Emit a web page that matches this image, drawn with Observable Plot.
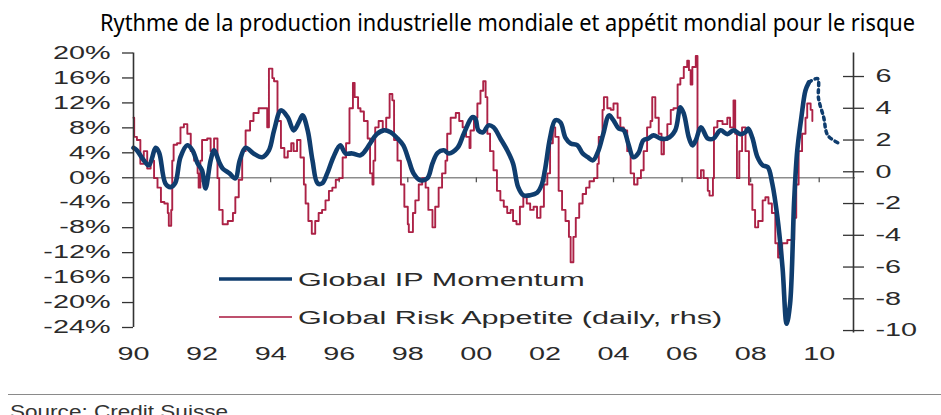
<!DOCTYPE html>
<html><head><meta charset="utf-8">
<script src="https://cdn.jsdelivr.net/npm/d3@7"></script>
<script src="https://cdn.jsdelivr.net/npm/@observablehq/plot@0.6"></script>
<style>
html,body{margin:0;padding:0;background:#fff}
body{width:941px;height:415px;overflow:hidden;position:relative;font-family:"Liberation Sans",Arial,sans-serif}
#title{position:absolute;left:0;top:0}
#chart{position:absolute;left:0;top:35px}
#legend{position:absolute;left:0;top:0;pointer-events:none}
#rule{position:absolute;left:8px;top:394px;width:933px;border-top:1.5px solid #8a8a8a}
#source{position:absolute;left:0;top:0}
</style></head><body>
<div id="chart"></div>
<svg id="title" width="941" height="45"><text x="100" y="31" font-family="Noto Sans, Open Sans, sans-serif" font-size="23" fill="#000" textLength="815" lengthAdjust="spacingAndGlyphs">Rythme de la production industrielle mondiale et appétit mondial pour le risque</text></svg>
<div id="rule"></div>
<svg id="source" width="941" height="415"><text x="10" y="418" font-size="18" fill="#333" textLength="218" lengthAdjust="spacingAndGlyphs">Source: Credit Suisse</text></svg>
<svg id="legend" width="941" height="415"></svg>
<script>
// ---- data ----
const seriesNames = ["Global IP Momentum", "Global Risk Appetite (daily, rhs)"];
// Global IP momentum (% , left axis): [year, value]
const ipMomentum = [
[1990.0,4.8],[1990.1,4.4],[1990.3,2.8],[1990.45,2.0],[1990.65,4.8],[1990.75,4.0],[1990.93,-0.9],[1991.08,-1.5],[1991.22,-0.8],[1991.37,3.3],[1991.57,5.2],[1991.72,4.4],[1991.87,2.3],[1992.0,1.2],[1992.1,-1.7],[1992.25,2.8],[1992.35,4.4],[1992.5,2.5],[1992.6,1.5],[1992.8,0.7],[1992.97,-0.1],[1993.1,2.8],[1993.27,4.8],[1993.5,3.9],[1993.75,3.3],[1993.95,4.4],[1994.1,7.6],[1994.3,10.8],[1994.5,9.7],[1994.67,7.6],[1994.82,8.9],[1994.93,10.0],[1995.08,7.6],[1995.22,2.8],[1995.37,-0.9],[1995.5,-0.9],[1995.65,0.7],[1995.83,3.3],[1996.03,5.2],[1996.18,3.9],[1996.38,3.9],[1996.62,3.6],[1996.77,4.4],[1996.9,5.5],[1997.1,7.0],[1997.3,7.6],[1997.5,7.3],[1997.7,6.3],[1997.87,5.2],[1998.03,2.8],[1998.17,0.7],[1998.37,-0.4],[1998.57,-0.1],[1998.72,2.3],[1998.87,4.0],[1999.05,4.4],[1999.2,3.9],[1999.45,4.8],[1999.63,7.0],[1999.88,9.7],[1999.97,9.5],[2000.06,7.6],[2000.2,7.3],[2000.35,8.4],[2000.5,8.1],[2000.7,6.3],[2000.9,4.4],[2001.07,2.3],[2001.22,-1.5],[2001.37,-2.8],[2001.57,-2.8],[2001.77,-2.4],[2001.9,-1.2],[2002.0,1.2],[2002.15,6.4],[2002.3,9.2],[2002.45,8.9],[2002.6,6.4],[2002.75,5.5],[2002.95,5.2],[2003.1,3.9],[2003.25,3.3],[2003.4,2.8],[2003.55,4.2],[2003.7,7.0],[2003.87,10.0],[2004.0,9.2],[2004.15,7.9],[2004.3,7.6],[2004.43,5.5],[2004.58,3.3],[2004.73,4.0],[2004.87,6.0],[2005.02,6.3],[2005.17,6.8],[2005.37,6.3],[2005.57,6.3],[2005.8,7.6],[2005.95,11.3],[2006.05,10.3],[2006.2,6.4],[2006.3,5.2],[2006.4,6.0],[2006.55,8.1],[2006.75,6.3],[2006.92,6.3],[2007.12,7.6],[2007.32,7.0],[2007.5,7.6],[2007.7,7.0],[2007.85,7.3],[2007.93,7.9],[2008.05,6.4],[2008.2,3.3],[2008.35,2.0],[2008.5,1.7],[2008.63,-0.9],[2008.78,-6.3],[2008.93,-14.4],[2009.05,-23.4],[2009.15,-20.2],[2009.27,-3.6],[2009.36,4.4],[2009.48,9.7],[2009.6,14.0],[2009.7,15.3]
];
// projected IP momentum (dotted)
const ipProjection = [[2009.7,15.3],[2009.95,15.9],[2009.98,12.7],[2010.13,9.7],[2010.25,6.8],[2010.55,5.6]];
// Global risk appetite (right axis): [year, value]
const riskAppetite = [
[1990.0,3.4],[1990.02,2.2],[1990.1,2.0],[1990.2,0.5],[1990.3,1.3],[1990.4,0.2],[1990.5,0.7],[1990.6,-0.4],[1990.7,-1.0],[1990.8,-1.9],[1990.9,-2.0],[1991.0,-2.6],[1991.03,-3.4],[1991.1,-2.4],[1991.13,0.7],[1991.17,1.7],[1991.27,1.8],[1991.37,2.8],[1991.47,3.0],[1991.57,2.4],[1991.67,1.3],[1991.77,0.7],[1991.87,-0.1],[1991.9,-1.0],[1991.95,0.7],[1992.0,2.0],[1992.15,2.1],[1992.25,1.3],[1992.35,2.1],[1992.45,-0.4],[1992.5,-2.4],[1992.6,-3.3],[1992.75,-3.1],[1992.9,-2.6],[1992.97,-1.6],[1993.07,-0.5],[1993.17,1.3],[1993.27,2.6],[1993.4,3.2],[1993.5,3.7],[1993.65,4.0],[1993.8,4.0],[1993.9,2.8],[1993.95,6.5],[1994.05,5.9],[1994.1,5.7],[1994.2,3.2],[1994.3,1.5],[1994.4,0.9],[1994.5,1.3],[1994.6,1.8],[1994.67,1.3],[1994.77,2.0],[1994.87,0.9],[1994.97,-0.8],[1995.02,-2.0],[1995.1,-3.1],[1995.2,-3.9],[1995.3,-3.1],[1995.4,-2.6],[1995.5,-2.4],[1995.6,-1.8],[1995.7,-1.2],[1995.8,-1.0],[1995.9,-0.5],[1996.0,-0.4],[1996.1,0.9],[1996.2,1.8],[1996.3,4.0],[1996.4,5.6],[1996.45,4.7],[1996.55,4.0],[1996.62,3.8],[1996.72,3.2],[1996.83,2.1],[1996.9,-0.1],[1996.97,-0.8],[1997.0,0.7],[1997.05,2.8],[1997.15,3.2],[1997.27,2.6],[1997.37,3.4],[1997.47,4.9],[1997.55,4.5],[1997.6,2.0],[1997.7,0.7],[1997.8,-0.8],[1997.9,-2.2],[1998.0,-3.3],[1998.03,-3.8],[1998.15,-2.6],[1998.22,-1.8],[1998.32,-0.8],[1998.42,-0.4],[1998.52,-1.0],[1998.6,-2.4],[1998.72,-3.5],[1998.8,-2.2],[1998.9,-1.0],[1999.0,-0.1],[1999.1,0.7],[1999.15,2.4],[1999.25,3.4],[1999.4,3.7],[1999.5,3.2],[1999.6,2.8],[1999.7,2.2],[1999.8,1.5],[1999.83,2.6],[1999.93,3.4],[2000.03,4.3],[2000.12,5.1],[2000.2,5.7],[2000.27,4.7],[2000.32,2.4],[2000.4,1.3],[2000.5,0.1],[2000.6,-1.2],[2000.7,-1.8],[2000.8,-2.2],[2000.9,-2.6],[2001.0,-2.4],[2001.07,-3.1],[2001.17,-3.3],[2001.27,-2.2],[2001.37,-1.6],[2001.47,-2.0],[2001.57,-2.4],[2001.67,-2.2],[2001.77,-2.9],[2001.87,-2.2],[2001.97,-0.8],[2002.07,-0.1],[2002.15,1.8],[2002.23,2.8],[2002.3,2.2],[2002.4,-1.2],[2002.5,-2.4],[2002.6,-3.1],[2002.7,-4.1],[2002.75,-5.7],[2002.83,-4.1],[2002.9,-2.9],[2003.0,-2.0],[2003.1,-1.4],[2003.2,-1.0],[2003.3,-0.6],[2003.43,-0.4],[2003.53,0.5],[2003.57,2.2],[2003.68,3.9],[2003.72,4.7],[2003.82,4.0],[2003.92,3.9],[2004.0,4.3],[2004.12,3.4],[2004.2,2.8],[2004.3,2.6],[2004.4,1.3],[2004.5,-0.1],[2004.6,-0.8],[2004.7,-0.4],[2004.8,0.1],[2004.88,1.3],[2004.98,2.8],[2005.08,3.2],[2005.13,4.7],[2005.22,3.4],[2005.32,2.4],[2005.4,1.1],[2005.47,2.0],[2005.57,3.0],[2005.67,3.9],[2005.75,4.0],[2005.87,5.5],[2005.95,5.9],[2006.05,6.6],[2006.15,7.0],[2006.2,6.4],[2006.25,5.5],[2006.3,6.6],[2006.4,7.3],[2006.45,-0.4],[2006.55,0.1],[2006.63,-0.4],[2006.75,-1.2],[2006.8,-1.5],[2006.9,-0.4],[2006.93,2.8],[2007.03,3.2],[2007.18,3.0],[2007.32,3.4],[2007.4,2.8],[2007.5,4.5],[2007.55,2.4],[2007.6,-0.4],[2007.67,1.3],[2007.75,2.8],[2007.85,1.3],[2007.95,-0.8],[2008.05,-2.4],[2008.13,-3.5],[2008.22,-3.1],[2008.35,-1.8],[2008.43,-1.6],[2008.52,-2.0],[2008.62,-2.6],[2008.72,-4.5],[2008.8,-5.4],[2008.92,-4.5],[2009.07,-4.3],[2009.2,-4.3],[2009.27,-2.9],[2009.33,-0.8],[2009.4,1.3],[2009.5,2.4],[2009.6,3.4],[2009.65,4.3],[2009.75,3.9],[2009.8,3.2]
];
const leftTicks = [20,16,12,8,4,0,-4,-8,-12,-16,-20,-24];
const rightTicks = [6,4,2,0,-2,-4,-6,-8,-10];
const xTickYears = [1990,1992,1994,1996,1998,2000,2002,2004,2006,2008,2010];
const xDomain = [1990, 2011];
const leftDomain = [-24, 20];
// right axis expressed in left-axis units: left = rA + rB * right
const rA = 0.96, rB = 2.545;
const toLeft = r => rA + rB * r;
const fromLeft = v => Math.round((v - rA) / rB);

const BLUE = "#0f3d6e", RED = "#a8163c", STRETCH = 1.6;

const chart = Plot.plot({
  width: 941, height: 355,
  marginLeft: 133, marginRight: 88, marginTop: 17.5, marginBottom: 63,
  x: {domain: xDomain},
  y: {domain: leftDomain},
  style: {fontFamily: "Liberation Sans, Arial, sans-serif", fontSize: "18px", color: "#2a2a2a", background: "transparent"},
  marks: [
    Plot.ruleY([0], {stroke: "#8c8c8c", strokeWidth: 1.3, insetRight: -2}),
    Plot.ruleX(xTickYears.slice(1), {y1: 0, y2: -0.8, stroke: "#555", strokeWidth: 1.3}),
    Plot.line(riskAppetite, {x: d => d[0], y: d => toLeft(d[1]), stroke: RED, strokeWidth: 1.9, curve: "step-after", strokeOpacity: 0.95}),
    Plot.line(ipMomentum, {x: d => d[0], y: d => d[1], stroke: BLUE, strokeWidth: 4.6, curve: "catmull-rom"}),
    Plot.line(ipProjection, {x: d => d[0], y: d => d[1], stroke: BLUE, strokeWidth: 3.5, strokeDasharray: "3,4", curve: "catmull-rom"}),
    Plot.ruleX([xDomain[0]], {y1: leftDomain[0], y2: leftDomain[1], stroke: "#333", strokeWidth: 1.6}),
    Plot.ruleX([xDomain[1]], {y1: toLeft(-10.15), y2: leftDomain[1], stroke: "#333", strokeWidth: 1.6}),
    Plot.axisY({anchor: "left", ticks: leftTicks, tickFormat: d => `${d}%`, tickSize: 11, tickPadding: 12, stroke: "#333", strokeWidth: 1.3}),
    Plot.axisY({anchor: "right", ticks: rightTicks.map(toLeft), tickFormat: d => `${fromLeft(d)}`, tickSize: 10, tickPadding: 12, stroke: "#333", strokeWidth: 1.3}),
    Plot.ruleY(rightTicks.map(toLeft), {insetLeft: 710, stroke: "#333", strokeWidth: 1.3}),
    Plot.axisX({ticks: xTickYears, tickFormat: d => String(d % 100).padStart(2, "0"), tickSize: 0, tickPadding: 20})
  ]
});
document.getElementById("chart").appendChild(chart);

// horizontally stretch the text like the reference (x-only scale about each text's anchor)
function stretchText(root, k) {
  root.querySelectorAll("text").forEach(el => {
    let x = parseFloat(el.getAttribute("x"));
    if (!isFinite(x) || /em/.test(el.getAttribute("x") || "")) x = 0;
    const t = el.getAttribute("transform") || "";
    el.setAttribute("transform", `${t} translate(${x},0) scale(${k},1) translate(${-x},0)`);
  });
}
stretchText(chart, STRETCH);

// legend
const lg = d3.select("#legend");
const legendItems = [
  {name: seriesNames[0], color: BLUE, width: 3.5, y: 279},
  {name: seriesNames[1], color: RED, width: 1.5, y: 317}
];
legendItems.forEach(it => {
  lg.append("line").attr("x1", 219).attr("x2", 292).attr("y1", it.y).attr("y2", it.y)
    .attr("stroke", it.color).attr("stroke-width", it.width);
  lg.append("text").attr("x", 298).attr("y", it.y + 7)
    .attr("font-size", 19).attr("fill", "#2a2a2a")
    .attr("font-family", "Liberation Sans, Arial, sans-serif").text(it.name);
});
stretchText(document.getElementById("legend"), 1.61);
</script>
</body></html>
